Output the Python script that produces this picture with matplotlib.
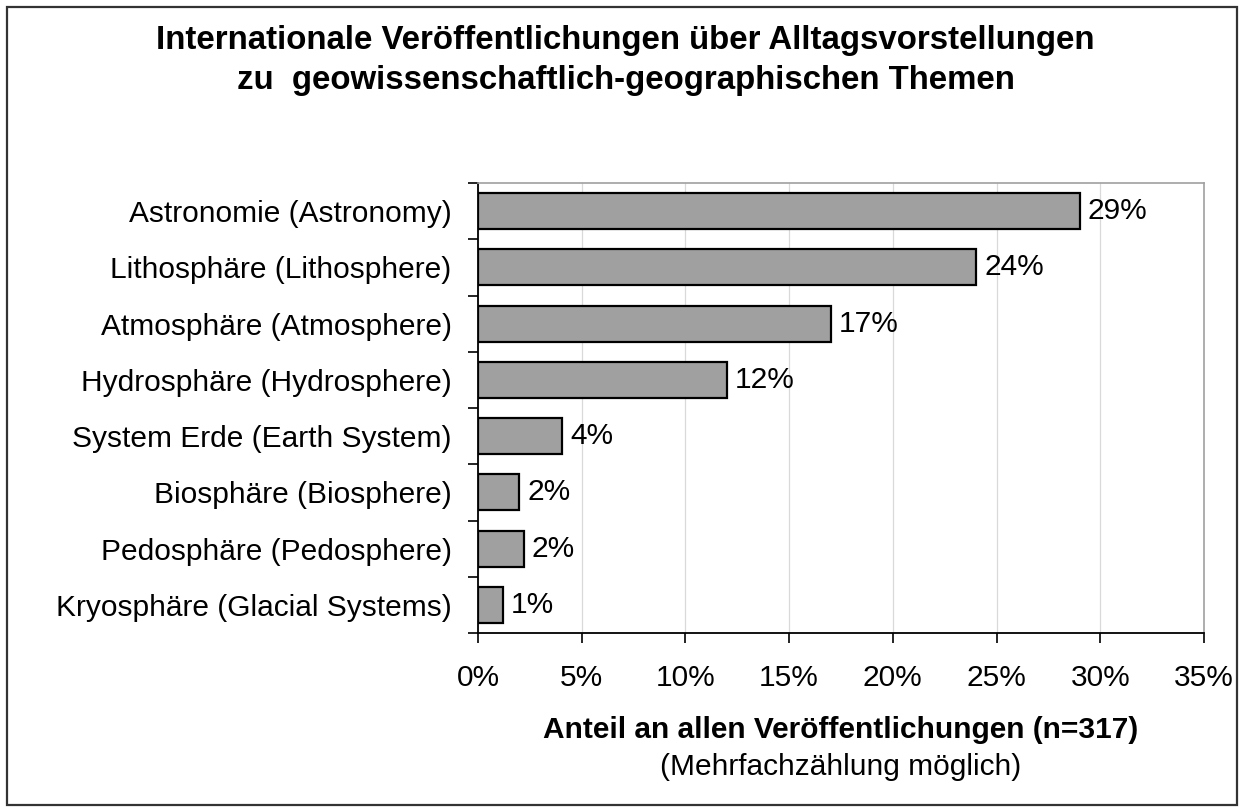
import matplotlib
matplotlib.use("Agg")
import matplotlib.pyplot as plt
from matplotlib.patches import Rectangle

plt.rcParams['font.family'] = ['Liberation Sans', 'DejaVu Sans']

# categories top to bottom
categories = [
    "Astronomie (Astronomy)",
    "Lithosphäre (Lithosphere)",
    "Atmosphäre (Atmosphere)",
    "Hydrosphäre (Hydrosphere)",
    "System Erde (Earth System)",
    "Biosphäre (Biosphere)",
    "Pedosphäre (Pedosphere)",
    "Kryosphäre (Glacial Systems)",
]
shares = [29.0, 24.0, 17.0, 12.0, 4.05, 2.0, 2.2, 1.2]
xticks = [0, 5, 10, 15, 20, 25, 30, 35]

W, H = 1251, 807
fig = plt.figure(figsize=(W / 100, H / 100), dpi=100)
ax = fig.add_axes([478/W, 1 - 633/H, (1204-478)/W, (633-183)/H])

ypos = list(range(len(categories)))
ax.barh(ypos, shares, height=0.64, color="#a0a0a0", edgecolor="black", linewidth=1.6, zorder=3)
for y, v in zip(ypos, shares):
    ax.annotate(f"{v:.0f}%", (v, y), xytext=(6, 0), textcoords="offset points",
                va="center", ha="left", fontsize=21.5)

ax.set_ylim(len(categories) - 0.5, -0.5)
ax.set_xlim(0, 35)
ax.set_xticks(xticks)
ax.set_xticklabels([f"{t}%" for t in xticks], fontsize=21.5)
ax.set_yticks(ypos)
ax.set_yticklabels(categories, fontsize=21.5)
ax.set_yticks([i - 0.5 for i in range(len(categories) + 1)], minor=True)
ax.tick_params(axis="y", which="major", length=0, pad=19)
ax.tick_params(axis="y", which="minor", length=7, width=1.2, direction="out")
ax.tick_params(axis="x", length=7, width=1.2, direction="out", pad=15)
ax.grid(axis="x", color="#d9d9d9", linewidth=0.9, zorder=0)

for s in ["left", "bottom"]:
    ax.spines[s].set_color("black")
    ax.spines[s].set_linewidth(1.3)
for s in ["top", "right"]:
    ax.spines[s].set_color("#a0a0a0")
    ax.spines[s].set_linewidth(1.2)

fig.text(0.5, 1 - 49/H, "Internationale Veröffentlichungen über Alltagsvorstellungen",
         ha="center", va="baseline", fontsize=23.8, fontweight="bold")
fig.text(0.5, 1 - 89/H, "zu  geowissenschaftlich-geographischen Themen",
         ha="center", va="baseline", fontsize=23.8, fontweight="bold")
fig.text(841/W, 1 - 738/H, "Anteil an allen Veröffentlichungen (n=317)",
         ha="center", va="baseline", fontsize=21.5, fontweight="bold")
fig.text(841/W, 1 - 775/H, "(Mehrfachzählung möglich)",
         ha="center", va="baseline", fontsize=21.5)

fig.patches.append(Rectangle((7/W, 2/H), 1230/W, 798/H, transform=fig.transFigure,
                             fill=False, edgecolor="#333333", linewidth=1.6))

fig.savefig("out.png", dpi=100)
